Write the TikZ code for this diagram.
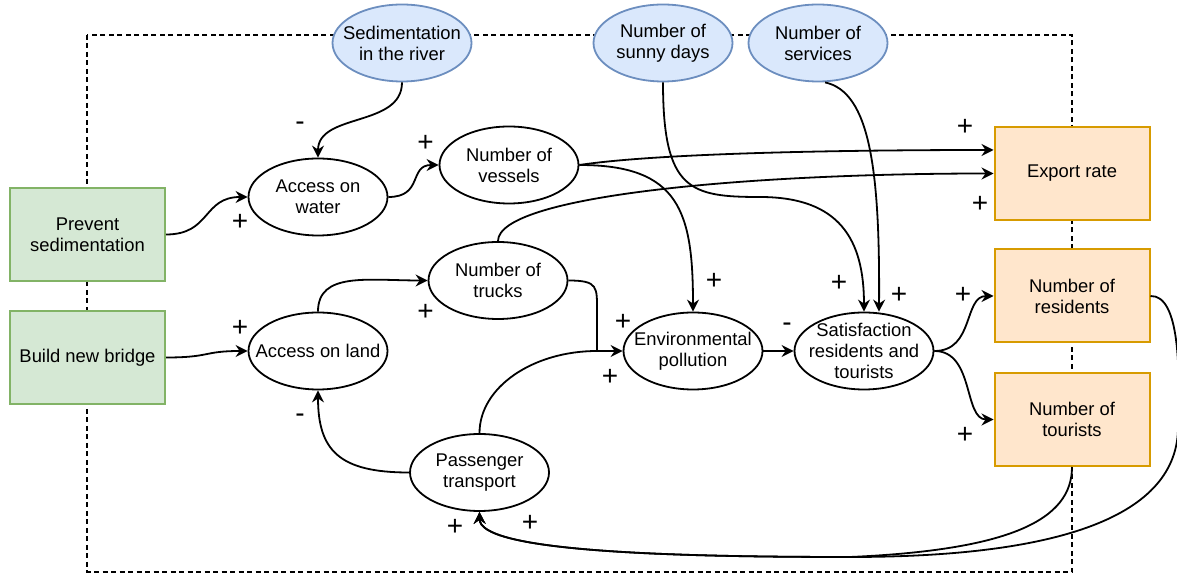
\documentclass[tikz,border=0pt]{standalone}
\usepackage{fontspec}
\setmainfont{Liberation Sans}
\usetikzlibrary{shapes.geometric,arrows.meta}

\definecolor{drvfill}{HTML}{DAE8FC}
\definecolor{drvdraw}{HTML}{6C8EBF}
\definecolor{polfill}{HTML}{D5E8D4}
\definecolor{poldraw}{HTML}{82B366}
\definecolor{outfill}{HTML}{FFE6CC}
\definecolor{outdraw}{HTML}{D79B00}

\begin{document}
\begin{tikzpicture}[
  x=0.5pt, y=-0.5pt,
  every node/.style={font=\fontsize{9.2}{10.5}\selectfont, align=center},
  factor/.style={ellipse, draw, line width=0.9pt, fill=white, inner sep=0pt,
    minimum width=69.5pt, minimum height=38.5pt, label={center:#1}},
  driver/.style={factor={#1}, draw=drvdraw, fill=drvfill},
  policy/.style={rectangle, draw=poldraw, fill=polfill, line width=1pt,
    minimum width=77.5pt, minimum height=46.5pt},
  outcome/.style={policy, draw=outdraw, fill=outfill},
  link/.style={line width=0.9pt, -{Stealth[length=6pt,width=6pt,inset=2pt]}},
  boundary/.style={line width=0.8pt, dash pattern=on 2.5pt off 1.75pt},
  sign/.style={font=\fontsize{14}{14}\selectfont, inner sep=0pt}
]
\useasboundingbox (0,0) rectangle (1177,576);

% system boundary
\draw[boundary] (87,35) rectangle (1072,572);

% external drivers
\node[driver={Sedimentation\\in the river}] (sed) at (402,43) {};
\node[driver={Number of\\sunny days}] (sun) at (663,43) {};
\node[driver={Number of\\services}] (serv) at (818,43) {};

% interventions
\node[policy] (prev) at (87.5,234.5) {Prevent\\sedimentation};
\node[policy] (bridge) at (87.5,357.5) {Build new bridge};

% inner variables
\node[factor={Access on\\water}] (water) at (318,197) {};
\node[factor={Access on land}] (land) at (318,351) {};
\node[factor={Number of\\vessels}] (vessels) at (509,165) {};
\node[factor={Number of\\trucks}] (trucks) at (498,280.5) {};
\node[factor={Passenger\\transport}] (pass) at (479.5,472.5) {};
\node[factor={Environmental\\pollution}] (poll) at (693,351) {};
\node[factor={Satisfaction\\residents and\\tourists}] (sat) at (864,351) {};

% outcomes
\node[outcome] (export) at (1072,173.5) {Export rate};
\node[outcome] (res) at (1072,296) {Number of\\residents};
\node[outcome] (tour) at (1072,419.5) {Number of\\tourists};

\coordinate (join) at (597,351);
\coordinate (loop) at (850,557);

% links into the access nodes
\draw[link] (sed.south) .. controls +(0,45) and +(0,-45) .. (water.north);
\draw[link] (prev.east) .. controls +(45,0) and +(-45,0) .. (water.west);
\draw[link] (bridge.east) .. controls +(45,0) and +(-45,0) .. (land.west);
\draw[link] (pass.west) .. controls +(-70,0) and +(0,60) .. (land.south);

% transport
\draw[link] (water.east) .. controls +(35,0) and +(-30,0) .. (vessels.west);
\draw[link] (land.north) .. controls +(0,-40) and +(-60,0) .. (trucks.west);
\draw[link] (vessels.east) .. controls +(80,-12) and +(-150,0) .. ([yshift=11.75pt]export.west);
\draw[link] (trucks.north) .. controls +(0,-45) and +(-250,0) .. (export.west);

% pollution
\draw[link] (vessels.east) .. controls +(100,0) and +(0,-100) .. (poll.north);
\draw[link] (trucks.east) .. controls +(30,0) and +(0,-25) .. (597,312) -- (join) -- (poll.west);
\draw[line width=0.9pt] (pass.north) .. controls +(0,-46) and +(-64,0) .. (join);

% satisfaction
\draw[link] (poll.east) -- (sat.west);
\draw[link] (sun.south) .. controls +(0,108) and (690,197) .. (760,197)
  .. controls (840,197) and (864,240) .. (sat.north);
\draw[link] ([xshift=3.5pt]serv.south) .. controls (870,92) and (880,170) .. ([xshift=7.5pt]sat.north);
\draw[link] (sat.east) .. controls +(40,0) and +(-30,0) .. (res.west);
\draw[link] (sat.east) .. controls +(40,0) and +(-30,0) .. (tour.west);

% feedback to passenger transport
\draw[link] (res.east) .. controls (1180,295) and (1180,370) .. (1178,430)
  .. controls (1175,520) and (1050,557) .. (loop)
  .. controls (650,557) and (480,550) .. (pass.south);
\draw[link] (tour.south) .. controls (1072,520) and (1010,550) .. (loop)
  .. controls (650,557) and (480,550) .. (pass.south);

% polarities
\node[sign] (sgn1) at (300,126) {-};
\node[sign] (sgn2) at (240,222) {+};
\node[sign] (sgn3) at (425.5,143) {+};
\node[sign] (sgn4) at (240,328) {+};
\node[sign] (sgn5) at (425.5,312) {+};
\node[sign] (sgn6) at (300,418) {-};
\node[sign] (sgn7) at (455,527) {+};
\node[sign] (sgn8) at (530,523) {+};
\node[sign] (sgn9) at (714,281) {+};
\node[sign] (sgn10) at (623,322) {+};
\node[sign] (sgn11) at (610,377) {+};
\node[sign] (sgn12) at (787,327) {-};
\node[sign] (sgn13) at (839,283) {+};
\node[sign] (sgn14) at (899,295) {+};
\node[sign] (sgn15) at (963,295) {+};
\node[sign] (sgn16) at (965,435) {+};
\node[sign] (sgn17) at (965,127) {+};
\node[sign] (sgn18) at (980,204) {+};
\end{tikzpicture}
\end{document}
